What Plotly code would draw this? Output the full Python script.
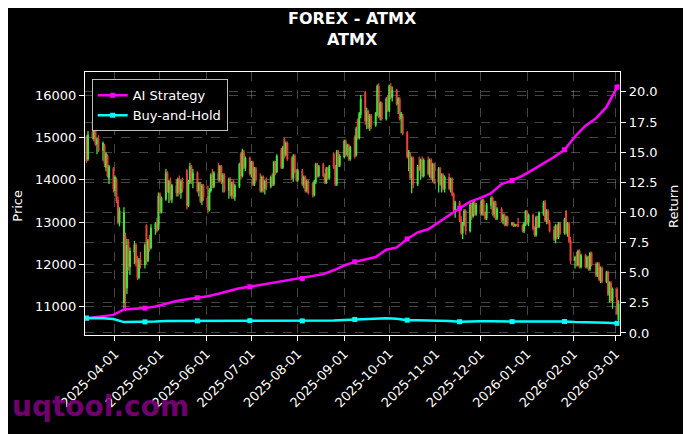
import pandas as pd
import plotly.graph_objects as go

# ---------------- data ----------------
first_day = "2025-03-13"   # business days from here, one per candle

opens = [
    15000, 14500,
    15100, 14980, 15250, 14850, 14950,
    14700, 14800, 14300, 14550, 14050,
    14250, 13750, 14000, 13500, 13000,
    11100, 12650, 11450, 12500, 11950,
    12300, 12450, 12050, 11700, 12100,
    12000, 12900, 12100, 12550, 12400,
    12850, 12950, 12850, 13650, 13250,
    13550, 14150, 13700, 13950, 13550,
    13850, 13700, 14000, 13700, 13950,
    14200, 13400, 13950, 14300, 14000,
    14150, 13750, 13900, 13500, 13850,
    13600, 13300, 13750, 14100, 13850,
    14150, 14000, 14300, 13950, 14100,
    13750, 14000, 13650, 13950, 13600,
    13850, 14600, 14100, 14650, 14300,
    14500, 14150, 14400, 13900, 14250,
    14000, 13750, 14050, 13800, 13950,
    13850, 14050, 13900, 14400, 14200,
    14700, 14300, 14950, 14600, 14850,
    14500, 14050, 14550, 14200, 14000,
    14200, 13900, 14050, 13750, 13950,
    13900, 13650, 13950, 14350, 14100,
    14350, 14100, 13950, 14250, 14050,
    14600, 14300, 13900, 14650, 14350,
    14550, 14900, 14600, 14800, 14500,
    15000, 14600, 15400, 15000, 15550,
    16050, 15400, 15600, 15250, 15500,
    15300, 15550, 16200, 15500, 15800,
    15450, 15900, 15650, 16200, 15950,
    16100, 15800, 15900, 15450, 15500,
    15100, 14550, 14600, 14050, 14500,
    13900, 14300, 14250, 14450, 14100,
    14450, 14150, 14450, 14050, 14350,
    13950, 14250, 13900, 14100, 13800,
    14050, 13800, 14000, 13650, 13300,
    13450, 13050, 12750, 12950, 13250,
    12800, 13400, 13150, 13450, 13200,
    13400, 13200, 13500, 13200, 13100,
    13400, 13550, 13200, 13450, 13100,
    13300, 13050, 13150, 12950, 13100,
    12950, 12980, 12920, 12940, 12930,
    12900, 12800, 12950, 13250, 13000,
    13150, 12850, 12700, 13100, 12900,
    13200, 13450, 13050, 13250, 13000,
    12800, 12600, 12900, 12650, 12950,
    12750, 13250, 12750, 12950, 12550,
    12100, 12150, 12000, 12300, 11950,
    12200, 11950, 12150, 11900, 12250,
    12000, 11750, 12000, 11650, 11900,
    11600, 11800, 11300, 11550, 11150,
    11400, 10700,
]
highs = [
    15050, 15150,
    15380, 15300, 15320, 15000, 15050,
    14900, 14850, 14650, 14600, 14350,
    14300, 14100, 14050, 13600, 13350,
    13350, 12750, 12600, 12600, 12400,
    12550, 12500, 12200, 12150, 12300,
    12500, 12950, 12600, 12700, 12950,
    13000, 13100, 13700, 13700, 13600,
    14250, 14200, 14000, 14050, 13900,
    14000, 14050, 14100, 14000, 14050,
    14250, 14000, 14400, 14350, 14250,
    14200, 13950, 13950, 13900, 13900,
    13850, 13800, 14150, 14250, 14200,
    14400, 14350, 14350, 14150, 14150,
    14050, 14050, 13950, 14000, 13900,
    14400, 14650, 14730, 14700, 14550,
    14550, 14450, 14450, 14300, 14300,
    14150, 14100, 14100, 14000, 14050,
    14100, 14150, 14450, 14450, 14600,
    14750, 14800, 15000, 14900, 14900,
    14550, 14600, 14600, 14250, 14250,
    14250, 14100, 14100, 14000, 14000,
    13950, 14000, 14400, 14400, 14350,
    14400, 14150, 14300, 14300, 14350,
    14650, 14350, 14700, 14700, 14600,
    14950, 14950, 14850, 14850, 14800,
    15050, 15250, 15450, 15600, 16000,
    16100, 15700, 15650, 15550, 15550,
    15600, 16250, 16280, 15850, 15850,
    15950, 16000, 16250, 16280, 16200,
    16150, 15950, 15950, 15600, 15550,
    15150, 14700, 14650, 14550, 14550,
    14350, 14550, 14500, 14550, 14500,
    14550, 14500, 14500, 14400, 14400,
    14300, 14300, 14150, 14150, 14100,
    14150, 14050, 14050, 13700, 13500,
    13500, 13150, 13000, 13300, 13300,
    13450, 13450, 13500, 13500, 13450,
    13500, 13550, 13550, 13250, 13450,
    13600, 13600, 13500, 13500, 13350,
    13350, 13200, 13200, 13150, 13150,
    13000, 13000, 12960, 12960, 13100,
    12950, 13000, 13280, 13280, 13200,
    13200, 12900, 13150, 13150, 13250,
    13500, 13520, 13300, 13300, 13050,
    12900, 12950, 12950, 13000, 13000,
    13100, 13280, 13000, 13000, 12650,
    12200, 12300, 12350, 12350, 12250,
    12250, 12200, 12200, 12300, 12300,
    12050, 12050, 12050, 11950, 11950,
    11850, 11850, 11600, 11600, 11450,
    11460, 11150,
]
lows = [
    14400, 14450,
    14950, 14900, 14800, 14600, 14650,
    14450, 14300, 14200, 14050, 13900,
    13700, 13600, 13450, 12950, 12900,
    10950, 10900, 11300, 11850, 11750,
    12000, 11950, 11630, 11650, 11900,
    11900, 12000, 12050, 12300, 12350,
    12700, 12750, 12800, 13200, 13200,
    13500, 13700, 13450, 13500, 13450,
    13600, 13600, 13650, 13550, 13700,
    13300, 13350, 13900, 13900, 13800,
    13700, 13600, 13450, 13400, 13500,
    13200, 13250, 13700, 13800, 13800,
    13950, 13950, 13900, 13700, 13700,
    13550, 13600, 13550, 13550, 13500,
    13800, 14000, 14050, 14250, 14200,
    14100, 14050, 13850, 13850, 13950,
    13700, 13700, 13700, 13650, 13750,
    13800, 13850, 13850, 14100, 14150,
    14250, 14250, 14500, 14550, 14450,
    14000, 13950, 14150, 13950, 13950,
    13850, 13800, 13700, 13700, 13650,
    13580, 13600, 13900, 14050, 14050,
    14050, 13900, 13900, 14000, 14000,
    14250, 13850, 13850, 14300, 14300,
    14500, 14550, 14550, 14450, 14450,
    14500, 14550, 14950, 14950, 15450,
    15300, 15200, 15200, 15150, 15200,
    15250, 15500, 15450, 15400, 15400,
    15400, 15600, 15600, 15900, 15850,
    15750, 15550, 15400, 15100, 15050,
    14500, 14200, 14000, 13680, 13800,
    13850, 14200, 14000, 14050, 14050,
    14100, 14050, 14000, 13950, 13900,
    13700, 13850, 13700, 13750, 13700,
    13750, 13700, 13600, 13250, 13100,
    13000, 12700, 12600, 12900, 12700,
    12750, 13050, 13100, 13150, 13150,
    13150, 13150, 13150, 13050, 13050,
    13300, 13150, 13100, 13050, 13050,
    13000, 12950, 12900, 12900, 12900,
    12900, 12880, 12880, 12900, 12880,
    12750, 12740, 12900, 12950, 12900,
    12800, 12650, 12650, 12850, 12850,
    13150, 13000, 12950, 12950, 12750,
    12550, 12500, 12600, 12600, 12700,
    12700, 12700, 12650, 12500, 12000,
    11900, 11950, 11950, 11900, 11900,
    11900, 11900, 11850, 11850, 11950,
    11700, 11700, 11600, 11560, 11550,
    11550, 11250, 11100, 11100, 10950,
    10800, 10620,
]
closes = [
    14450, 15050,
    15000, 15250, 14850, 14950, 14700,
    14850, 14400, 14600, 14100, 14300,
    13800, 14050, 13500, 13000, 13250,
    13200, 11400, 12450, 11950, 12300,
    12450, 12050, 11700, 12100, 12000,
    12450, 12100, 12550, 12400, 12850,
    12950, 12800, 13600, 13250, 13550,
    14150, 13750, 13950, 13550, 13850,
    13700, 14000, 13700, 13950, 13800,
    13400, 13950, 14300, 14000, 14150,
    13750, 13900, 13500, 13850, 13600,
    13300, 13750, 14100, 13850, 14150,
    14000, 14300, 13950, 14100, 13750,
    14000, 13650, 13900, 13600, 13850,
    14350, 14100, 14650, 14300, 14500,
    14150, 14400, 13900, 14250, 14000,
    13750, 14050, 13800, 13950, 13850,
    14050, 13900, 14400, 14200, 14550,
    14300, 14750, 14600, 14850, 14500,
    14050, 14550, 14200, 14000, 14200,
    13900, 14050, 13750, 13950, 13700,
    13650, 13950, 14350, 14100, 14300,
    14100, 13950, 14250, 14050, 14300,
    14300, 13900, 14650, 14350, 14550,
    14900, 14600, 14800, 14500, 14750,
    14550, 15200, 15000, 15550, 15900,
    15400, 15600, 15250, 15500, 15300,
    15550, 16200, 15500, 15800, 15450,
    15900, 15650, 16200, 15950, 16100,
    15800, 15900, 15450, 15550, 15100,
    14550, 14650, 14050, 14500, 13900,
    14300, 14250, 14450, 14100, 14450,
    14150, 14450, 14050, 14350, 13950,
    14250, 13900, 14100, 13800, 14050,
    13800, 14000, 13650, 13300, 13450,
    13050, 12750, 12950, 13250, 12800,
    13400, 13150, 13450, 13200, 13400,
    13200, 13500, 13200, 13100, 13400,
    13550, 13200, 13450, 13100, 13300,
    13050, 13150, 12950, 13100, 12950,
    12980, 12920, 12940, 12930, 12900,
    12800, 12950, 13250, 13000, 13150,
    12850, 12700, 13100, 12900, 13200,
    13450, 13050, 13250, 13000, 12800,
    12600, 12900, 12650, 12950, 12750,
    13050, 12750, 12950, 12550, 12100,
    12150, 12000, 12300, 11950, 12200,
    11950, 12150, 11900, 12250, 12000,
    11750, 12000, 11650, 11900, 11600,
    11800, 11300, 11550, 11150, 11400,
    10850, 11050,
]

# weekly samples of the two return curves
line_start = "2025-03-13"
first_monday = "2025-03-17"
line_end = "2026-03-03"
ai_strategy = [
    1.23, 1.28, 1.36, 1.50, 1.95, 2.00, 2.06, 2.20, 2.42, 2.65,
    2.80, 2.92, 3.05, 3.25, 3.48, 3.70, 3.83, 3.98, 4.10, 4.25,
    4.40, 4.52, 4.68, 4.88, 5.20, 5.60, 5.90, 6.12, 6.30, 6.90,
    7.10, 7.80, 8.35, 8.60, 9.20, 9.75, 10.35, 10.90, 11.20, 11.60,
    12.35, 12.65, 13.05, 13.55, 14.05, 14.60, 15.20, 16.30, 17.20, 17.80,
    18.75, 20.40, 20.60,
]
buy_and_hold = [
    1.23, 1.25, 1.21, 1.15, 0.90, 0.90, 0.92, 0.96, 1.00, 1.00,
    1.01, 1.00, 1.00, 1.02, 1.00, 1.03, 1.02, 1.00, 1.03, 1.06,
    1.03, 1.00, 1.01, 1.02, 1.04, 1.07, 1.12, 1.17, 1.20, 1.22,
    1.18, 1.06, 1.05, 1.05, 1.02, 1.00, 0.93, 0.97, 0.97, 0.98,
    0.95, 0.94, 0.94, 0.95, 0.97, 0.94, 0.95, 0.90, 0.90, 0.87,
    0.84, 0.80, 0.78,
]
marker_idx = [0, 6, 11, 16, 21, 26, 31, 36, 41, 46, 51]

month_ticks = ["2025-04-01", "2025-05-01", "2025-06-01", "2025-07-01",
               "2025-08-01", "2025-09-01", "2025-10-01", "2025-11-01",
               "2025-12-01", "2026-01-01", "2026-02-01", "2026-03-01"]
price_ticks = [11000, 12000, 13000, 14000, 15000, 16000]
return_ticks = [0.0, 2.5, 5.0, 7.5, 10.0, 12.5, 15.0, 17.5, 20.0]

# ---------------- figure ----------------
dates = pd.bdate_range(first_day, periods=len(closes))
line_dates = ([pd.Timestamp(line_start)]
              + list(pd.date_range(first_monday, periods=len(ai_strategy) - 2, freq="7D"))
              + [pd.Timestamp(line_end)])

FONT = "DejaVu Sans"
GREEN = "#44ff44"
RED = "#ff4a40"
MAGENTA = "#ff00ff"
CYAN = "#00ffff"
GRID = "rgba(150,150,150,0.45)"

fig = go.Figure()
fig.add_trace(go.Candlestick(
    x=dates, open=opens, high=highs, low=lows, close=closes,
    increasing=dict(line=dict(color=GREEN, width=1.3), fillcolor=GREEN),
    decreasing=dict(line=dict(color=RED, width=1.3), fillcolor=RED),
    opacity=0.9, whiskerwidth=0, showlegend=False, hoverinfo="skip",
))

for name, vals, col in [("AI Strategy", ai_strategy, MAGENTA),
                        ("Buy-and-Hold", buy_and_hold, CYAN)]:
    fig.add_trace(go.Scatter(x=line_dates, y=vals, yaxis="y2", mode="lines",
                             line=dict(color=col, width=2.5), showlegend=False,
                             hoverinfo="skip"))
    fig.add_trace(go.Scatter(x=[line_dates[i] for i in marker_idx],
                             y=[vals[i] for i in marker_idx], yaxis="y2",
                             mode="markers",
                             marker=dict(symbol="square", size=5, color=col),
                             showlegend=False, hoverinfo="skip"))
    fig.add_trace(go.Scatter(x=[None], y=[None], yaxis="y2", mode="lines+markers",
                             name=name, line=dict(color=col, width=2.5),
                             marker=dict(symbol="square", size=5, color=col)))

axis_common = dict(
    showline=True, linecolor="white", linewidth=1.2,
    ticks="outside", ticklen=5, tickcolor="white", tickwidth=1,
    tickfont=dict(family=FONT, size=13, color="white"),
    showgrid=True, gridcolor=GRID, griddash="dash", gridwidth=0.8,
    zeroline=False,
)

# the page body adds an 8px offset, so the margins are shifted by -8px
fig.update_layout(
    width=691, height=434,
    paper_bgcolor="black", plot_bgcolor="black",
    margin=dict(l=77, r=79, t=64, b=107),
    font=dict(family=FONT, size=13, color="white"),
    xaxis=dict(**axis_common, type="date", mirror=True,
               range=["2025-03-12", "2026-03-04"],
               tickvals=month_ticks, ticktext=month_ticks, tickangle=-45,
               rangeslider=dict(visible=False)),
    yaxis=dict(**axis_common, range=[10330, 16545], tickvals=price_ticks,
               ticktext=[str(v) for v in price_ticks]),
    yaxis2=dict(**axis_common, overlaying="y", side="right",
                range=[-0.17, 21.65], tickvals=return_ticks,
                ticktext=[f"{v:.1f}" for v in return_ticks]),
    legend=dict(x=0.0125, y=0.972, xanchor="left", yanchor="top",
                bgcolor="black", bordercolor="rgba(210,210,210,0.9)",
                borderwidth=1, font=dict(family=FONT, size=13, color="white")),
    showlegend=True,
)

fig.add_annotation(text="<b>FOREX - ATMX</b><br><b>ATMX</b>", xref="paper", yref="paper",
                   x=0.5, y=(335 - 29) / 263, xanchor="center", yanchor="middle",
                   showarrow=False, font=dict(family=FONT, size=16, color="white"))
fig.add_annotation(text="Price", xref="paper", yref="paper",
                   x=(16.7 - 85) / 535, y=(335 - 206) / 263, textangle=-90,
                   xanchor="center", yanchor="middle", showarrow=False,
                   font=dict(family=FONT, size=13, color="white"))
fig.add_annotation(text="Return", xref="paper", yref="paper",
                   x=(673 - 85) / 535, y=(335 - 207) / 263, textangle=-90,
                   xanchor="center", yanchor="middle", showarrow=False,
                   font=dict(family=FONT, size=13, color="white"))
fig.add_annotation(text="<b>uqtool.com</b>", xref="paper", yref="paper",
                   x=(10 - 85) / 535, y=(335 - 406) / 263, xanchor="left",
                   yanchor="middle", showarrow=False,
                   font=dict(family=FONT, size=28, color="rgba(128,0,128,0.9)"))

fig.write_html("out.html")
